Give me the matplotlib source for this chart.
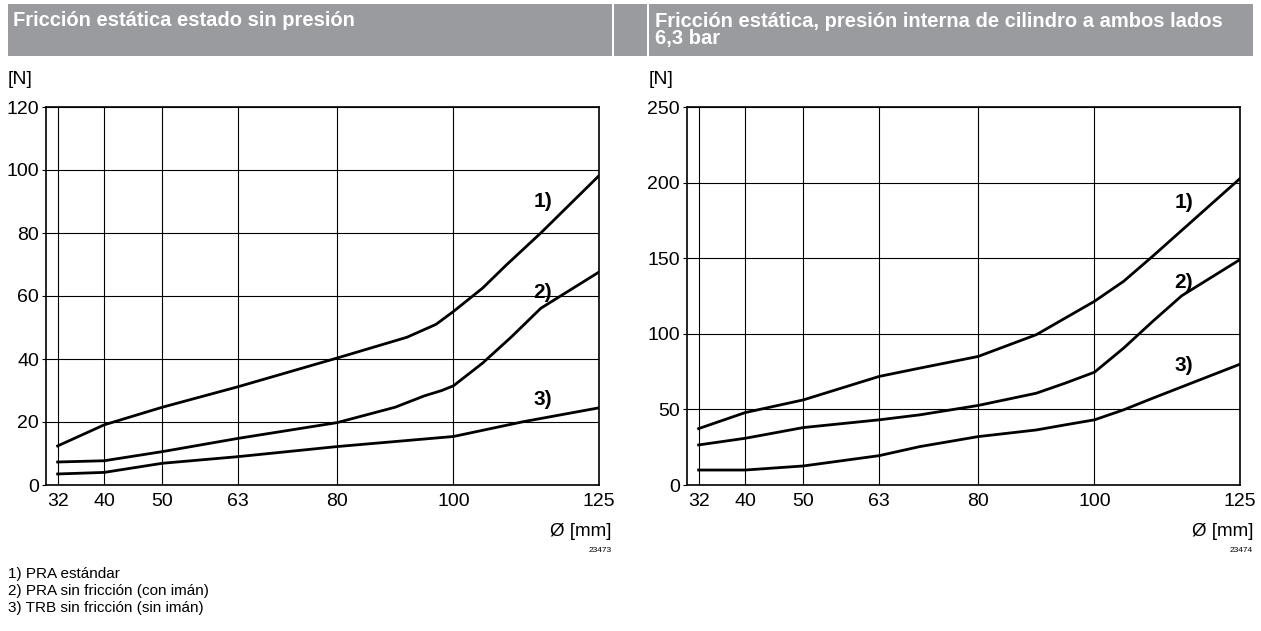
import matplotlib
matplotlib.use("Agg")
import matplotlib.pyplot as plt
from matplotlib.patches import Rectangle

plt.rcParams.update({
    "font.family": ["Liberation Sans", "DejaVu Sans"],
    "font.size": 13,
})

# bore diameters on the x axis
diam_ticks = [32, 40, 50, 63, 80, 100, 125]

# left chart: static friction without pressure [N]
l_x1 = [32, 40, 50, 63, 80, 92, 97, 100, 105, 109, 115, 125]
l_y1 = [12.4, 19.1, 24.7, 31.2, 40.3, 46.9, 51.0, 55.1, 62.5, 69.7, 80.0, 98.2]
l_x2 = [32, 40, 50, 63, 80, 90, 95, 98, 100, 105, 110, 115, 125]
l_y2 = [7.3, 7.7, 10.6, 14.8, 19.8, 24.7, 28.3, 30.0, 31.5, 38.7, 47.1, 56.1, 67.6]
l_x3 = [32, 40, 50, 63, 80, 100, 112, 125]
l_y3 = [3.5, 4.0, 6.9, 9.0, 12.2, 15.4, 20.1, 24.5]

# right chart: static friction at 6,3 bar [N]
r_x1 = [32, 40, 50, 63, 70, 80, 90, 100, 105, 110, 125]
r_y1 = [37.3, 47.9, 56.3, 71.8, 77.3, 85.0, 99.4, 121.5, 134.7, 151.3, 202.7]
r_x2 = [32, 40, 50, 63, 70, 80, 90, 95, 100, 105, 110, 115, 125]
r_y2 = [26.5, 30.9, 38.0, 43.1, 46.4, 52.6, 60.7, 67.4, 74.6, 90.5, 108.2, 125.2, 149.1]
r_x3 = [32, 40, 50, 63, 70, 80, 90, 95, 100, 105, 110, 125]
r_y3 = [9.9, 9.9, 12.6, 19.4, 25.4, 32.0, 36.4, 39.8, 43.1, 49.7, 57.4, 79.9]

curve_labels = ["1)", "2)", "3)"]
l_label_y = [90, 61, 27]
r_label_y = [187, 134, 79]

footnotes = ["1) PRA estándar",
             "2) PRA sin fricción (con imán)",
             "3) TRB sin fricción (sin imán)"]

W, H = 1261, 631
fig = plt.figure(figsize=(W / 100, H / 100), dpi=100)


def px_rect(x0, y0, x1, y1):
    return [x0 / W, 1 - y1 / H, (x1 - x0) / W, (y1 - y0) / H]


# header bars
HEAD = "#9a9b9f"
for x0, x1 in [(8, 612), (614, 647), (649, 1253)]:
    fig.patches.append(Rectangle((x0 / W, 1 - 56 / H), (x1 - x0) / W, 52 / H,
                                 transform=fig.transFigure, color=HEAD, lw=0))
fig.text(13 / W, 1 - 20 / H, "Fricción estática estado sin presión",
         color="white", fontweight="bold", fontsize=14.5, va="center")
fig.text(655 / W, 1 - 30 / H,
         "Fricción estática, presión interna de cilindro a ambos lados\n6,3 bar",
         color="white", fontweight="bold", fontsize=14.5, va="center",
         linespacing=0.9)


def draw_panel(rect, curves, ymax, ystep, label_y, fig_no, ylab_x):
    ax = fig.add_axes(rect)
    for xs, ys in curves:
        ax.plot(xs, ys, color="black", lw=2.0, solid_joinstyle="round")
    ax.set_xlim(30, 125)
    ax.set_ylim(0, ymax)
    ax.set_xticks(diam_ticks)
    ax.set_yticks(range(0, ymax + 1, ystep))
    ax.grid(True, color="black", lw=0.8)
    ax.tick_params(axis="x", length=0, pad=6, labelsize=14)
    ax.tick_params(axis="y", length=3, width=0.8, pad=2, labelsize=14)
    for s in ax.spines.values():
        s.set_linewidth(1.2)
    for lab, ly in zip(curve_labels, label_y):
        ax.text(115.3, ly, lab, fontweight="bold", fontsize=15,
                ha="center", va="center")
    x_right = rect[0] + rect[2] + 13 / W
    fig.text(x_right, 1 - 531 / H, "Ø [mm]", ha="right", va="center", fontsize=13.5)
    fig.text(x_right, 1 - 551 / H, fig_no, ha="right", va="center", fontsize=6)
    fig.text(ylab_x / W, 1 - 79 / H, "[N]", ha="left", va="center", fontsize=14)
    return ax


draw_panel(px_rect(46, 107, 599, 485),
           [(l_x1, l_y1), (l_x2, l_y2), (l_x3, l_y3)],
           120, 20, l_label_y, "23473", 8)
draw_panel(px_rect(687, 107, 1240, 485),
           [(r_x1, r_y1), (r_x2, r_y2), (r_x3, r_y3)],
           250, 50, r_label_y, "23474", 649)

for i, t in enumerate(footnotes):
    fig.text(8 / W, 1 - (574 + 17 * i) / H, t, ha="left", va="center", fontsize=11)

fig.savefig("out.png", dpi=100)
